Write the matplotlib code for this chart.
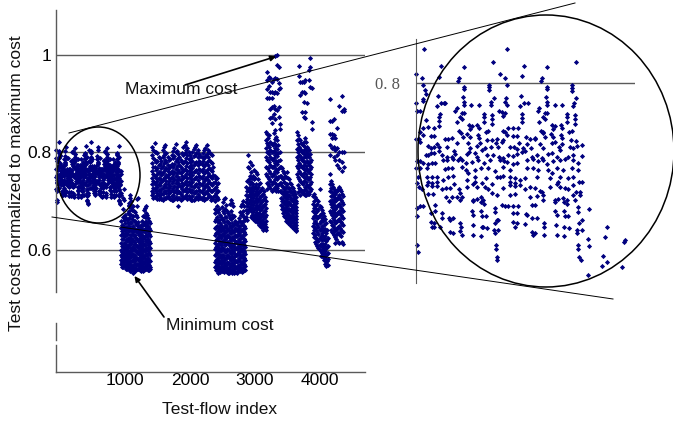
import numpy as np
import matplotlib
matplotlib.use("Agg")
import matplotlib.pyplot as plt
from matplotlib.patches import Ellipse
from matplotlib.transforms import ScaledTranslation

plt.rcParams['font.family'] = ['Liberation Sans', 'DejaVu Sans']

W, H = 673, 424
NAVY = '#00007f'
GRID = '#5a5a5a'

X_TICKS = [1000, 2000, 3000, 4000]
Y_TICKS = [0.6, 0.8, 1.0]
Y_TICK_LABELS = ['0.6', '0.8', '1']
X_LABEL = 'Test-flow index'
Y_LABEL = 'Test cost normalized to maximum cost'

# first test-flow group, (index, cost x 10000), shown in main plot and in magnified view
GROUP_A_1 = [(48,8206),(546,8206),(466,8126),(964,8126),(150,8104),(648,8104),(292,8094),(790,8094),(4,8054),(504,8054),(40,8028),(538,8028),(640,8042),(142,8038),(258,8028),(252,8014),(756,8028),(750,8014),
(46,7988),(288,7974),(288,7962),(442,7988),(442,7974),(438,7958),(546,7986),(788,7974),(788,7962),(938,7986),(938,7972),(936,7954),(54,7958),
(60,7932),(132,7924),(470,7910),(540,7910),(632,7924),(964,7910),(286,7914),(782,7914),(46,7906),
(2,7878),(42,7894),(150,7882),(170,7878),(178,7878),(126,7862),(290,7886),(290,7868),(334,7868),(380,7868),(450,7888),(450,7866),(536,7888),(550,7866),(626,7862),(648,7882),(672,7878),(786,7886),(786,7868),(834,7868),(878,7868),(952,7882),(946,7862),
(10,7834),(26,7832),(246,7848),(238,7834),(144,7814),(280,7818),(292,7822),(410,7814),(458,7808),(502,7834),(516,7828),(534,7818),(742,7848),(736,7834),(640,7812),(778,7818),(790,7822),(906,7814),(956,7808),
(140,7794),(60,7778),(140,7774),(266,7798),(278,7786),(246,7764),(410,7794),(458,7782),(460,7754),(412,7768),(524,7802),(640,7788),(640,7768),(766,7798),(778,7786),(742,7764),(910,7794),(956,7782),(956,7754),(910,7768)]
GROUP_A_2 = [(46,7728),(76,7734),(110,7732),(26,7708),(142,7742),(260,7714),(322,7746),(336,7742),(370,7748),(378,7728),(422,7708),(436,7714),(326,7722),(526,7714),(538,7708),(556,7728),(586,7732),(616,7732),(752,7714),(820,7746),(834,7742),(872,7748),(876,7728),(922,7708),(936,7714),(826,7722),(762,7704),
(2,7666),(18,7662),(46,7688),(90,7682),(110,7682),(26,7648),(176,7666),(196,7662),(216,7668),(272,7698),(286,7674),(310,7692),(326,7678),(372,7688),(382,7668),(426,7658),(456,7658),(490,7662),(526,7658),(546,7688),(582,7682),(606,7682),(660,7674),(686,7666),(714,7668),(766,7698),(778,7674),(810,7692),(826,7678),(874,7688),(880,7668),(932,7658),(960,7654),
(76,7624),(92,7608),(110,7616),(130,7634),(142,7614),(190,7618),(230,7594),(246,7638),(316,7638),(326,7612),(370,7622),(386,7642),(416,7608),(450,7616),(480,7638),(496,7618),(516,7648),(566,7618),(592,7618),(606,7604),(622,7638),(646,7612),(666,7634),(690,7608),(716,7662),(746,7634),(766,7612),(816,7638),(836,7648),(862,7618),(876,7634),(926,7618),(946,7608),(970,7624),(998,7628),
(60,7566),(76,7566),(90,7578),(110,7578),(142,7594),(156,7568),(186,7554),(216,7558),(236,7574),(266,7548),(306,7574),(322,7588),(356,7578),(370,7558),(396,7598),(426,7568),(466,7568),(502,7558),(526,7548),(556,7568),(582,7564),(606,7574),(636,7588),(656,7594),(696,7558),(726,7568),(756,7548),(796,7574),(816,7578),(846,7558),(866,7598),(916,7558),(946,7568),(998,7564),
(10,7534),(26,7532),(42,7518),(76,7514),(96,7518),(116,7522),(166,7538),(190,7538),(222,7542),(256,7538),(276,7538),(302,7518),(336,7528),(376,7538),(410,7518),(446,7538),(506,7538),(530,7534),(546,7524),(586,7512),(606,7518),(666,7538),(706,7542),(736,7534),(762,7538),(786,7514),(826,7534),(866,7538),(896,7542),(946,7538),(976,7518)]
GROUP_A_3 = [(2,7492),(26,7492),(66,7492),(176,7482),(196,7488),(216,7488),(276,7498),(302,7478),(316,7458),(356,7478),(390,7492),(436,7488),(476,7474),(526,7498),(566,7478),(666,7488),(706,7492),(736,7478),(796,7478),(816,7458),(846,7488),(886,7478),(936,7488),(976,7478),
(16,7438),(10,7402),(66,7438),(96,7438),(130,7434),(166,7418),(76,7408),(96,7402),(130,7408),(196,7438),(226,7444),(310,7418),(356,7438),(356,7408),(422,7428),(486,7438),(506,7438),(526,7444),(566,7438),(596,7428),(626,7418),(656,7428),(566,7408),(596,7402),(726,7438),(806,7428),(866,7438),(916,7428),(946,7438),(980,7408),(996,7408),(856,7408),
(22,7378),(36,7362),(66,7388),(96,7382),(130,7382),(156,7362),(182,7372),(206,7368),(230,7394),(262,7362),(306,7378),(346,7394),(366,7378),(396,7402),(416,7378),(436,7362),(456,7394),(526,7368),(566,7388),(596,7382),(626,7388),(656,7362),(686,7374),(716,7368),(746,7354),(806,7378),(846,7394),(866,7378),(896,7368),(916,7362),(946,7388),(962,7348),(986,7348),
(76,7332),(106,7334),(182,7318),(216,7318),(246,7318),(266,7342),(276,7314),(346,7298),(366,7306),(390,7314),(402,7298),(456,7342),(486,7328),(566,7328),(596,7334),(686,7318),(726,7322),(756,7348),(766,7328),(836,7298),(856,7306),(886,7308),(906,7298),(946,7328),(986,7328)]
GROUP_A_4 = [(6,7248),(26,7262),(46,7262),(116,7268),(202,7292),(266,7298),(342,7292),(390,7288),(410,7274),(516,7268),(536,7262),(552,7262),(582,7262),(616,7262),(696,7268),(716,7268),(766,7298),(836,7288),(890,7288),(910,7274),(956,7298),(1042,7242),
(10,7202),(90,7218),(116,7234),(156,7218),(336,7234),(346,7208),(390,7234),(396,7202),(422,7202),(476,7248),(476,7228),(582,7218),(606,7218),(660,7214),(666,7208),(838,7234),(846,7208),(890,7234),(896,7202),(916,7202),(974,7254),(974,7226),
(90,7168),(110,7162),(96,7138),(156,7188),(202,7188),(226,7188),(206,7178),(266,7162),(272,7138),(346,7148),(396,7138),(486,7178),(496,7178),(476,7162),(586,7168),(606,7162),(596,7138),(656,7154),(696,7188),(726,7188),(770,7162),(770,7138),(840,7148),(892,7138),(996,7178),(982,7162),(1146,7138),
(146,7138),(110,7138),(206,7104),(226,7098),(266,7114),(276,7088),(346,7088),(390,7082),(426,7132),(406,7138),(470,7118),(496,7118),(476,7102),(696,7108),(716,7102),(706,7088),(770,7088),(846,7088),(890,7082),(922,7132),(970,7118),(996,7118),(970,7102),(1034,7062),(1136,7076),(1250,7048),(1258,7058),
(10,7028),(16,6986),(480,7028),(480,7002),(486,6958),(490,6938),(976,7028),(976,7002),(982,6958),(990,6938),(1042,7022),(1126,6964),(1146,6924),(1118,6902),(1036,6848),(1240,6898)]

# remaining groups: (index, [cost x 1000, ...])
GROUP_B = [(1000,[660,645,630,615,600,590,580,572]),(1030,[668,650,635,622,606,594,585,575,566]),(1060,[672,655,640,628,612,600,588,578,568]),(1090,[662,648,632,618,604,592,582,570,562]),(1120,[692,680,665,650,638,622,610,596,584,574,562]),(1150,[700,686,672,655,640,625,612,598,586,570,558]),(1180,[690,670,650,636,620,606,592,580,566,552]),(1210,[678,660,644,630,616,602,590,578,564,556]),(1240,[668,652,638,622,608,596,584,572,560]),(1270,[650,642,630,616,604,592,580,570,562]),(1300,[648,636,624,612,600,590,578,566,558]),(1330,[660,644,630,618,606,594,582,570,560]),(1360,[682,670,656,640,626,612,600,588,576,564,558]),(1390,[690,675,660,645,630,618,604,592,580,568,560]),(1420,[665,650,636,622,610,598,584,572,558]),(1450,[655,640,628,615,604,590,578,566,560]),
(1015,[652,638,622,608,596,585,576,566]),(1045,[662,644,628,614,600,590,580,570]),(1075,[666,648,634,620,606,594,583,572,562]),(1105,[676,655,640,625,611,598,587,576,566]),(1135,[695,672,658,644,630,616,604,590,578,566,557]),(1165,[682,664,645,632,618,604,592,578,562]),(1195,[680,660,644,628,613,600,586,572,558]),(1225,[672,654,638,624,610,598,584,570,560]),(1255,[658,646,634,620,606,594,582,572,560]),(1285,[646,634,622,610,598,586,574,564]),(1315,[652,640,628,616,602,590,576,564,556]),(1345,[670,652,638,624,612,600,588,576,566,557]),(1375,[686,668,652,636,622,610,598,584,572,561]),(1405,[672,656,642,628,616,602,590,576,564]),(1435,[660,646,632,618,606,594,580,570,558])]
GROUP_C = [(1480,[812,795,778,762,748,735,722,712]),(1520,[820,802,785,770,752,738,726,708]),(1560,[798,782,768,755,741,730,716,704]),(1600,[788,776,760,746,733,720,708]),(1640,[806,790,772,758,744,728,715,703]),(1680,[816,798,784,766,750,736,722,706]),(1720,[790,775,762,749,735,724,710]),(1760,[786,772,758,745,732,718,704]),(1800,[804,788,770,756,742,727,712,702]),(1840,[818,800,782,767,752,738,724,709]),(1880,[796,780,765,750,737,722,706,690]),(1920,[785,770,757,743,729,715,702]),(1960,[812,794,778,763,748,734,720,706]),(2000,[822,806,788,772,756,741,727,712]),(2040,[802,786,770,755,740,726,710]),(2080,[788,774,760,746,732,718,703]),(2120,[808,792,775,760,745,730,716,702]),(2160,[816,798,780,765,750,736,722,708]),(2200,[796,782,767,752,738,724,710]),(2240,[790,776,762,747,733,719,704]),(2280,[806,788,772,757,742,728,714,703]),(2320,[815,797,780,764,749,735,720,706]),(2360,[800,784,768,753,739,725,710]),(2400,[794,778,762,748,734,720,705]),(2440,[752,740,727,712,700,685]),(2480,[748,735,722,708]),
(1500,[806,788,770,755,742,728,716,706]),(1540,[800,781,764,748,733,720,710]),(1580,[790,774,761,748,736,724,712,704]),(1620,[782,768,754,740,726,714,705]),(1660,[812,794,779,763,747,732,719,707]),(1700,[798,781,768,754,741,729,716,706]),(1740,[784,769,756,742,728,716,706]),(1780,[794,777,763,750,737,724,711,703]),(1820,[810,792,776,761,746,732,718,705]),(1860,[804,787,773,758,744,730,716,704]),(1900,[790,775,761,746,733,719,707]),(1940,[798,780,766,752,738,725,711,704]),(1980,[816,798,783,767,752,737,723,708]),(2020,[810,794,778,763,748,733,719,705]),(2060,[794,780,765,750,736,722,707]),(2100,[800,783,768,753,739,724,710,703]),(2140,[812,795,779,763,748,733,719,705]),(2180,[806,790,774,758,744,730,715,704]),(2220,[792,779,764,750,736,721,706]),(2260,[798,782,767,752,738,723,709]),(2300,[810,793,776,760,745,731,717,704]),(2340,[806,790,774,758,744,730,715]),(2380,[797,781,765,750,736,722,708,702]),(2420,[770,754,738,724,708]),(2460,[745,730,716,704]),(2500,[738,722,705])]
GROUP_D = [(2450,[675,660,645,630,615,602,590,575,565]),(2480,[690,668,650,636,622,608,595,582,570,560]),(2510,[684,662,648,632,618,604,592,578,566,556]),(2540,[668,652,638,624,610,598,584,572,560]),(2570,[698,680,662,646,632,618,605,590,578,566,556]),(2600,[706,685,668,650,636,622,610,596,582,570,558]),(2630,[680,660,645,630,616,602,590,576,564,554]),(2660,[672,655,640,626,612,600,586,574,562,552]),(2690,[702,680,664,648,634,620,606,594,580,568,556]),(2720,[690,668,652,636,622,608,596,582,570,558]),(2750,[660,645,630,618,604,592,578,566,554]),(2780,[652,640,628,614,602,590,576,564,552]),(2810,[665,650,636,622,608,596,584,570,558]),(2840,[690,672,652,638,624,610,598,586,572,560]),(2870,[700,680,660,644,630,616,604,592,578,566,556]),(2900,[668,650,636,622,610,598,584,572,560]),
(2465,[682,664,648,634,620,606,592,580,568,558]),(2495,[678,658,642,626,612,600,586,574,562,552]),(2525,[672,656,640,628,614,600,588,576,564,555]),(2555,[688,664,646,630,616,604,590,578,566,557]),(2585,[704,676,658,642,628,614,600,586,574,562,554]),(2615,[692,668,652,638,624,612,598,584,570,558]),(2645,[676,658,642,628,614,600,588,574,560,552]),(2675,[694,666,650,634,620,608,594,582,568,556]),(2705,[696,672,656,640,626,612,600,588,574,562,552]),(2735,[670,654,638,626,612,600,586,574,562,552]),(2765,[656,642,628,616,604,590,578,566,554]),(2795,[658,644,632,618,606,594,580,568,556]),(2825,[678,660,644,630,616,604,590,578,566,556]),(2855,[694,674,656,640,626,612,600,586,574,562,554]),(2885,[690,668,650,636,622,610,596,584,570,558]),(2915,[662,646,632,618,606,592,580,568,558])]
GROUP_E = [(2930,[730,712,698,682,668]),(2960,[795,770,742,725,710,695,680]),(2990,[780,752,735,718,702,688]),(3020,[775,748,730,715,700,686,672]),(3050,[765,745,728,712,698,684,670]),(3080,[760,735,720,706,692,678,666]),(3110,[745,730,716,702,688,674,662]),(3140,[738,722,708,695,682,668,656]),(3170,[728,712,700,688,674,660,650]),(3200,[720,705,692,680,668,655,645]),(3230,[700,686,672,660,648,640]),
(2945,[742,720,704,690,676,662]),(2975,[768,745,728,712,698,684]),(3005,[760,740,724,708,694,680,668]),(3035,[752,736,720,706,692,678,664]),(3065,[748,730,714,700,686,672,660]),(3095,[755,726,712,698,684,670,658]),(3125,[735,718,704,690,676,664,652]),(3155,[724,710,698,684,670,658,648]),(3185,[715,702,690,676,664,652,642]),(3215,[708,694,680,668,654,644])]
GROUP_F = [(3247,[966,949,930,911]),(3275,[955,936,912]),(3300,[952,925,890,870]),(3324,[945,925,911,893,872,860]),(3350,[950,922,895,878]),(3375,[997,953,925,890,868]),(3395,[1000,980,950,922,888]),(3427,[975,942,930,893,873]),(3452,[932,858,848]),
(3230,[843,825,810,790,770,755]),(3265,[830,815,800,785,768,750,735]),(3300,[822,806,790,775,758,742,728]),(3335,[815,800,785,770,755,740,724]),(3370,[846,828,810,795,778,762,746,730]),(3405,[826,808,792,776,760,745,728]),(3440,[800,785,770,752,738,722]),
(3248,[838,820,802,785,768,752,738,725]),(3282,[835,812,796,780,762,746,731]),(3318,[818,802,786,770,752,736,722]),(3352,[840,820,804,788,772,756,740,726]),(3388,[832,815,798,782,766,750,735,722]),(3422,[815,798,782,766,750,734,720])]
GROUP_G = [(3460,[770,752,738,722,706,692]),(3490,[762,745,730,716,702,688,676]),(3520,[752,738,722,708,695,680,668]),(3550,[760,735,718,704,690,676,664]),(3580,[745,728,712,698,685,672,660]),(3610,[735,720,705,692,680,668,655]),(3640,[728,712,700,688,675,662,650]),(3670,[715,702,690,678,665,652,645]),(3700,[700,688,676,664,652,642]),
(3475,[768,748,732,716,700,684]),(3505,[758,740,726,710,696,682,670]),(3535,[750,730,714,700,686,672,660]),(3565,[748,728,710,696,682,668,656]),(3595,[738,722,708,694,680,666,652]),(3625,[730,716,702,686,672,660,648]),(3655,[720,706,694,682,668,656,644]),(3685,[708,696,682,670,658,646,638])]
GROUP_H = [(3735,[978,957]),(3760,[944,918]),(3786,[945,925,884]),(3811,[945,925,904,873]),(3837,[949,923,884,870]),(3863,[902]),(3889,[969,949]),(3914,[993,976,935]),(3940,[932,863,849]),
(3710,[842,825,808,790,772,756]),(3740,[828,812,795,778,762,745,728]),(3770,[820,805,788,772,756,740,722]),(3800,[815,798,782,768,752,736,716]),(3830,[830,812,796,780,765,748,730,712]),(3860,[812,798,782,766,750,734,718]),(3890,[805,790,775,760,745,730,714]),(3920,[785,770,755,740,725]),
(3725,[836,818,800,784,768,750,734,718]),(3755,[825,808,792,775,758,742,726,713]),(3785,[818,800,785,770,754,738,720]),(3815,[822,805,790,774,758,742,724,714]),(3845,[822,806,790,772,756,740,724,712]),(3875,[808,794,778,762,746,730,715]),(3905,[796,780,766,750,736,720])]
GROUP_I = [(3950,[710,695,680,665,650,635]),(3985,[708,690,675,660,645,630,616]),(4020,[695,680,666,652,636,622,608]),(4055,[725,690,672,655,640,625,610,600]),(4090,[682,666,650,635,620,606,594]),(4125,[670,652,638,622,606,592,580]),(4160,[655,635,618,604,590,578,568]),(4190,[625,608,594,582,570]),
(3967,[715,700,686,670,655,640,626]),(4002,[705,685,670,656,640,624,612]),(4037,[700,684,668,648,632,618,604]),(4072,[688,674,660,644,628,612,598,588]),(4107,[676,660,644,628,612,600,586]),(4142,[664,644,628,612,598,584,572]),(4175,[640,622,606,592,578,570])]
GROUP_J = [(4222,[909,865,838,816,795]),(4250,[865,838,830,810]),(4273,[868,835,812,790]),(4300,[830,805,785]),(4330,[850,810,795,775]),(4350,[895,802,785,768]),(4401,[915,885,800,780,762]),(4427,[890,885,800,770]),
(4210,[755,735,720,700,680,660]),(4240,[735,718,702,688,672,652,636]),(4270,[725,708,692,678,662,645,630]),(4300,[715,700,685,670,656,640,615]),(4330,[722,705,690,675,660,645,632]),(4360,[730,712,695,680,664,650,635,614]),(4390,[720,702,686,672,658,642,628]),(4420,[710,695,680,665,652,636,613]),
(4225,[742,728,710,694,676,658,642]),(4255,[730,712,698,682,666,650,634]),(4285,[718,704,688,674,658,642,626]),(4315,[720,702,688,672,658,642,622]),(4345,[726,708,692,676,662,648,634,616]),(4375,[725,706,690,676,660,646,630]),(4405,[715,698,682,668,654,638,616])]


def rect(px_left, px_top, px_right, px_bottom):
    return [px_left / W, 1 - px_bottom / H, (px_right - px_left) / W, (px_bottom - px_top) / H]


group_a = np.array(GROUP_A_1 + GROUP_A_2 + GROUP_A_3 + GROUP_A_4, dtype=float)
a_x, a_y = group_a[:, 0], group_a[:, 1] / 10000
other_x, other_y = [], []
for group in (GROUP_B, GROUP_C, GROUP_D, GROUP_E, GROUP_F, GROUP_G, GROUP_H, GROUP_I, GROUP_J):
    for x, ys in group:
        other_x += [x] * len(ys)
        other_y += [v / 1000 for v in ys]

fig = plt.figure(figsize=(W / 100, H / 100), dpi=100)

# main plot
ax = fig.add_axes(rect(56, 10, 365, 372))
ax.set_xlim(0, 4754)
ax.set_ylim(0.3497, 1.0923)
for s in ('top', 'right', 'left'):
    ax.spines[s].set_visible(False)
ax.spines['bottom'].set_color(GRID)
ax.spines['bottom'].set_linewidth(1)
ax.set_xticks(X_TICKS)
ax.set_yticks(Y_TICKS)
ax.set_yticklabels(Y_TICK_LABELS)
ax.tick_params(length=0, labelsize=12.5, pad=1)
ax.tick_params(axis='y', pad=3)
ax.grid(axis='y', color=GRID, lw=1)
ax.set_axisbelow(True)
shift = ScaledTranslation(4 / 100, 0, fig.dpi_scale_trans)
for lab in ax.get_xticklabels():
    lab.set_transform(lab.get_transform() + shift)
ax.scatter(a_x, a_y, s=7, marker='D', color=NAVY, linewidths=0, clip_on=False)
ax.scatter(other_x, other_y, s=7, marker='D', color=NAVY, linewidths=0, clip_on=False)

# magnified view
ins = fig.add_axes(rect(415.7, 39, 635, 283))
ins.patch.set_alpha(0)
ins.set_xlim(0, 1316)
ins.set_ylim(0.68, 0.8264)
for s in ('top', 'right', 'bottom'):
    ins.spines[s].set_visible(False)
ins.spines['left'].set_color(GRID)
ins.set_xticks([])
ins.set_yticks([0.8])
ins.set_yticklabels(['0. 8'], family='Liberation Serif', fontsize=12, color='#555555')
ins.tick_params(length=0, pad=11)
ins.grid(axis='y', color=GRID, lw=1)
ins.set_axisbelow(True)
ins.scatter(a_x, a_y, s=7, marker='D', color=NAVY, linewidths=0, clip_on=False)

# overlay in pixel coordinates
ov = fig.add_axes([0, 0, 1, 1])
ov.set_xlim(0, W)
ov.set_ylim(H, 0)
ov.axis('off')
ov.patch.set_alpha(0)
ov.plot([56, 56], [10, 292], color=GRID, lw=1)
ov.plot([55.5, 55.5], [323, 340], color=GRID, lw=1)
ov.plot([55.5, 55.5], [345, 372], color=GRID, lw=1)
ov.plot([69, 575], [133, 3], color='black', lw=0.7)
ov.plot([52, 613], [217, 299], color='black', lw=0.7)
ov.add_patch(Ellipse((98.5, 175), 83, 96, fill=False, ec='black', lw=1.1))
ov.add_patch(Ellipse((546, 151), 256, 272, fill=False, ec='black', lw=1.1, clip_on=False))
ov.annotate('', xy=(276, 56.5), xytext=(185, 85),
            arrowprops=dict(arrowstyle='-|>', color='black', lw=1.2, mutation_scale=8, shrinkA=0, shrinkB=0))
ov.annotate('', xy=(134.5, 276), xytext=(164, 317),
            arrowprops=dict(arrowstyle='-|>', color='black', lw=1.2, mutation_scale=8, shrinkA=0, shrinkB=0))
ov.text(181, 90, 'Maximum cost', ha='center', va='center', fontsize=12.5, color='#111111')
ov.text(219.5, 326, 'Minimum cost', ha='center', va='center', fontsize=12.5, color='#111111')
ov.text(220, 409, X_LABEL, ha='center', va='center', fontsize=12.5, color='#111111')
ov.text(17, 183, Y_LABEL, ha='center', va='center', rotation=90, fontsize=12.5, color='#111111')

fig.savefig('out.png', dpi=100)
